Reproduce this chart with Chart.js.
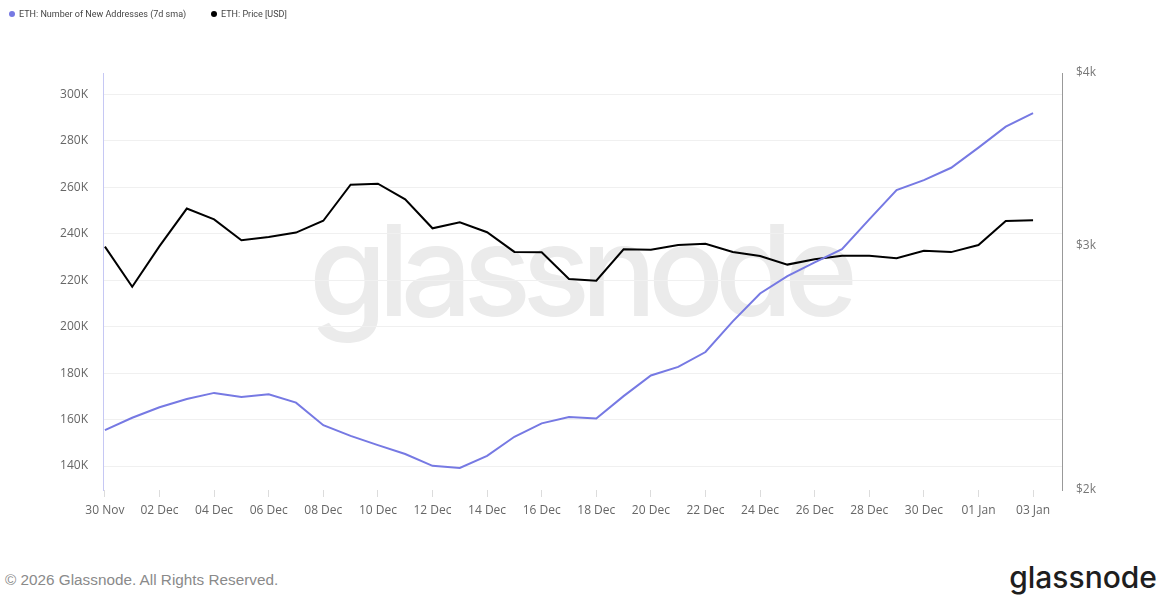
<!DOCTYPE html>
<html>
<head>
<meta charset="utf-8">
<script src="https://cdn.jsdelivr.net/npm/chart.js@4.4.1/dist/chart.umd.min.js"></script>
<style>
  html, body { margin: 0; padding: 0; background: #fff; }
  body { width: 1162px; height: 600px; position: relative; overflow: hidden; font-family: "Open Sans", sans-serif; }
  #legend { position: absolute; top: 9px; left: 9px; font-family: Roboto, sans-serif; font-size: 9px; color: #444; white-space: nowrap; }
  #legend span.item { position: absolute; top: 0; }
  #legend i { display: inline-block; width: 6px; height: 6px; border-radius: 50%; margin-right: 4px; vertical-align: 0px; }
  #watermark { position: absolute; left: 309px; top: 207px; line-height: 1; font-family: Inter, sans-serif; font-weight: 500; font-size: 126px; color: #ebebeb; letter-spacing: -9px; }
  #wrap { position: absolute; left: 0; top: 0; width: 1162px; height: 540px; }
  #copy { position: absolute; left: 5px; top: 571px; font-family: "Liberation Sans", Arial, sans-serif; font-size: 15.3px; color: #8a8a8a; }
  #logo { position: absolute; right: 5px; top: 559px; font-family: Inter, sans-serif; font-weight: 500; font-size: 30px; color: #1e1e1e; letter-spacing: 0px; }
</style>
</head>
<body>
<div id="watermark">glassnode</div>
<div id="wrap"><canvas id="chart"></canvas></div>
<div id="legend">
  <span class="item" style="left:0"><i style="background:#7679e3"></i>ETH: Number of New Addresses (7d sma)</span>
  <span class="item" style="left:202px"><i style="background:#000"></i>ETH: Price [USD]</span>
</div>
<div id="copy">© 2026 Glassnode. All Rights Reserved.</div>
<div id="logo">glassnode</div>
<script>
// Fechas diarias 30 Nov -> 03 Jan
const fechas = [
  '30 Nov', '01 Dec', '02 Dec', '03 Dec', '04 Dec', '05 Dec', '06 Dec', '07 Dec', '08 Dec', '09 Dec',
  '10 Dec', '11 Dec', '12 Dec', '13 Dec', '14 Dec', '15 Dec', '16 Dec', '17 Dec', '18 Dec', '19 Dec',
  '20 Dec', '21 Dec', '22 Dec', '23 Dec', '24 Dec', '25 Dec', '26 Dec', '27 Dec', '28 Dec', '29 Dec',
  '30 Dec', '31 Dec', '01 Jan', '02 Jan', '03 Jan'
];

// Nuevas direcciones (media 7d)
const nuevasDirecciones = [
  155500, 160800, 165300, 168900, 171500, 169700, 170900, 167300, 157600, 153000,
  149000, 145200, 140100, 139200, 144400, 152600, 158400, 161100, 160500, 170100,
  179000, 182700, 189100, 202300, 214300, 221800, 227700, 233400, 246200, 258800,
  263100, 268400, 277100, 286100, 291900
];

// Precio ETH en USD
const precioEth = [
  2997, 2804, 3000, 3193, 3136, 3029, 3046, 3068, 3129, 3322,
  3328, 3242, 3090, 3121, 3070, 2971, 2969, 2840, 2832, 2984,
  2982, 3005, 3012, 2971, 2951, 2909, 2935, 2952, 2952, 2940,
  2977, 2970, 3005, 3128, 3132
];

const ticksDirecciones = [140000, 160000, 180000, 200000, 220000, 240000, 260000, 280000, 300000];
const ticksPrecio = [2000, 3000, 4000];
const ticksFechas = fechas.map((f, i) => i).filter(i => i % 2 === 0);

const fuenteEje = { family: 'Open Sans', size: 12 };

new Chart(document.getElementById('chart'), {
  type: 'line',
  data: {
    datasets: [
      {
        label: 'ETH: Number of New Addresses (7d sma)',
        data: nuevasDirecciones.map((v, i) => ({ x: i, y: v })),
        borderColor: '#7679e3',
        borderWidth: 2,
        pointRadius: 0,
        yAxisID: 'y',
      },
      {
        label: 'ETH: Price [USD]',
        data: precioEth.map((v, i) => ({ x: i, y: v })),
        borderColor: '#000',
        borderWidth: 2,
        pointRadius: 0,
        yAxisID: 'y1',
      },
    ],
  },
  options: {
    responsive: true,
    maintainAspectRatio: false,
    animation: false,
    layout: { padding: { top: 73, left: 0, right: 0, bottom: 0 } },
    plugins: { legend: { display: false }, tooltip: { enabled: false } },
    scales: {
      x: {
        type: 'linear',
        min: -0.07,
        max: 35.06,
        afterBuildTicks: s => { s.ticks = ticksFechas.map(v => ({ value: v })); },
        afterFit: s => { s.height = 50; },
        grid: { drawOnChartArea: false, drawTicks: true, tickLength: 7, color: '#dcdcdc' },
        border: { display: false },
        ticks: {
          callback: v => fechas[v],
          color: '#666',
          font: fuenteEje,
          padding: 6,
          maxRotation: 0,
          autoSkip: false,
        },
      },
      y: {
        position: 'left',
        min: 129700,
        max: 309200,
        afterBuildTicks: s => { s.ticks = ticksDirecciones.map(v => ({ value: v })); },
        afterFit: s => { s.width = 103; },
        grid: { color: '#f0f0f0', drawTicks: false },
        border: { color: '#c6c8f4' },
        ticks: {
          callback: v => (v / 1000) + 'K',
          color: '#666',
          font: fuenteEje,
          padding: 15,
        },
      },
      y1: {
        type: 'logarithmic',
        position: 'right',
        min: 2000,
        max: 4000,
        afterBuildTicks: s => { s.ticks = ticksPrecio.map(v => ({ value: v })); },
        afterFit: s => { s.width = 100; },
        grid: { drawOnChartArea: false, drawTicks: false },
        border: { color: '#999' },
        ticks: {
          callback: v => '$' + (v / 1000) + 'k',
          color: '#777',
          font: fuenteEje,
          padding: 14,
        },
      },
    },
  },
});
</script>
</body>
</html>
